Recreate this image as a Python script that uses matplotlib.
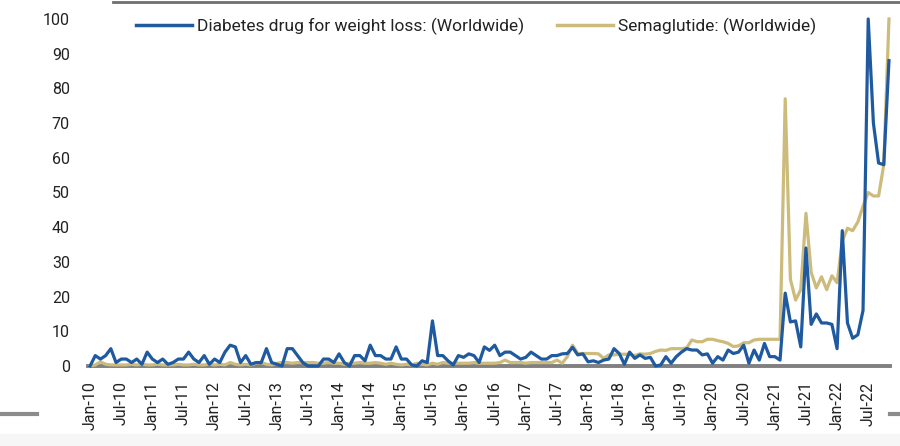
import matplotlib
matplotlib.use("Agg")
import matplotlib.pyplot as plt
import numpy as np
import pandas as pd
from matplotlib.lines import Line2D
from matplotlib.patches import Rectangle

plt.rcParams['font.family'] = ['Roboto', 'DejaVu Sans']

months = pd.date_range("2010-01-01", periods=155, freq="MS")
month_labels = [d.strftime("%b-%y") for d in months]

diabetes_drug = [
    0, 3, 2, 3, 5, 1, 2, 2, 1, 2, 0.5, 4,
    2, 1, 2, 0.5, 1, 2, 2, 4, 2, 1, 3, 0.5,
    2, 1, 4, 6, 5.5, 1, 3, 0.5, 1, 1, 5, 1,
    0.5, 0, 5, 5, 3, 1, 0, 0, 0, 2, 2, 1,
    3.5, 1, 0, 3, 3, 1.5, 6, 3, 3, 2, 2, 5.5,
    2, 2, 0.3, 0, 1.5, 1, 13, 3, 3, 1.5, 0.3, 3,
    2.5, 3.5, 3, 1, 5.5, 4.5, 6, 3, 4, 4, 3, 2,
    2.5, 4, 3, 2, 2, 3, 3, 3.5, 3.6, 5.4, 3.2, 3.5,
    1.2, 1.5, 1, 1.7, 2, 5, 3.6, 0.5, 4, 2.2, 3.2, 2.2,
    2.5, 0, 0.3, 2.7, 0.8, 2.7, 4, 5, 4.6, 4.6, 3.2, 3.5,
    0.8, 2.7, 1.7, 4.6, 3.6, 4, 6, 0.8, 4.6, 1.7, 6.5, 2.7,
    2.7, 1.7, 21, 12.7, 13, 5.5, 34, 12, 15, 12.4, 12.4, 12,
    5, 39, 12.4, 8, 9, 16, 100, 70, 58.5, 58, 88,
]

semaglutide = [
    0, 0.3, 1.2, 0.5, 0.3, 0.3, 0.3, 0.3, 0.5, 0.3, 0.5, 0.3,
    0.3, 0.5, 0.3, 0.3, 0.3, 0.5, 0.3, 0.3, 0.5, 0.3, 0.3, 0.5,
    0.3, 0.5, 0.3, 1, 0.5, 0.3, 0.5, 0.3, 0.8, 1, 0.5, 0.3,
    0.8, 1, 1, 0.8, 1, 1, 1, 1, 0.8, 0.8, 1, 0.8,
    0.8, 0.5, 0.8, 0.8, 1, 0.8, 0.8, 1, 0.8, 0.5, 0.8, 0.5,
    0.3, 0.5, 0.3, 0.8, 0.5, 0.3, 0.8, 0.5, 1, 0.8, 0.8, 0.8,
    0.8, 0.8, 1, 0.8, 0.8, 0.8, 0.8, 1, 1.7, 1, 1, 1,
    0.8, 1, 1, 1, 1, 1, 1.7, 0.8, 2.7, 6, 3.6, 3.6,
    3.6, 3.6, 3.5, 2.2, 3.2, 3.2, 3.4, 3.4, 3.4, 3, 3.5, 3.4,
    3.6, 4.2, 4.6, 4.5, 5, 5, 5, 5.2, 7.5, 7, 7, 7.7,
    7.7, 7.3, 7, 6.5, 5.6, 5.8, 6.7, 6.7, 7.5, 7.7, 7.7, 7.7,
    7.7, 7.7, 77, 25, 19, 22, 44, 27, 22.5, 25.7, 22, 26,
    24, 36, 39.7, 39, 41.5, 46, 50, 49, 49, 58, 100,
]

series_names = ["Diabetes drug for weight loss: (Worldwide)", "Semaglutide: (Worldwide)"]
y_ticks = list(range(0, 101, 10))

BLUE = "#1f5aa0"
GOLD = "#cdbb7c"

fig = plt.figure(figsize=(9, 4.46), dpi=100)
ax = fig.add_axes([88/900, 80/446, 802/900, 347/446])

x = np.arange(len(months))
ax.plot(x, diabetes_drug, color=BLUE, lw=2.3, zorder=4, clip_on=False,
        solid_joinstyle="round", label=series_names[0])
ax.plot(x, semaglutide, color=GOLD, lw=2.3, zorder=3, clip_on=False,
        solid_joinstyle="round", label=series_names[1])

ax.set_xlim(-0.4, 154.2)
ax.set_ylim(0, 100)
ax.set_yticks(y_ticks)
ax.set_yticklabels([str(v) for v in y_ticks])
tick_idx = list(range(0, len(months), 6))
ax.set_xticks(tick_idx)
ax.set_xticklabels([month_labels[i] for i in tick_idx], rotation=90)
ax.tick_params(axis="both", length=0, labelsize=11.5, colors="#222222")
ax.tick_params(axis="y", pad=13)
ax.tick_params(axis="x", pad=11)

for s in ["top", "right", "left"]:
    ax.spines[s].set_visible(False)
ax.spines["bottom"].set_color("#808080")
ax.spines["bottom"].set_linewidth(2.8)
ax.spines["bottom"].set_zorder(2)

handles = [Line2D([0], [0], color=BLUE, lw=2.5), Line2D([0], [0], color=GOLD, lw=2.5)]
fig.legend(handles, series_names, loc="center", bbox_to_anchor=(476/900, 1 - 26/446),
           ncol=2, frameon=False, fontsize=12.5, handlelength=3.2, handletextpad=0.3,
           columnspacing=1.9, labelcolor="#222222")

# page decorations
fig.add_artist(Line2D([113/900, 1], [1 - 2/446, 1 - 2/446], color="#707070", lw=2,
                      transform=fig.transFigure))
fig.add_artist(Line2D([0, 37/900], [1 - 414/446, 1 - 414/446], color="#8c8c8c", lw=3,
                      transform=fig.transFigure))
fig.add_artist(Line2D([890/900, 1], [1 - 414/446, 1 - 414/446], color="#8c8c8c", lw=3,
                      transform=fig.transFigure))
fig.add_artist(Rectangle((0, 0), 1, 12/446, transform=fig.transFigure,
                         color="#f6f6f6", zorder=-10))

fig.savefig("out.png", dpi=100)
